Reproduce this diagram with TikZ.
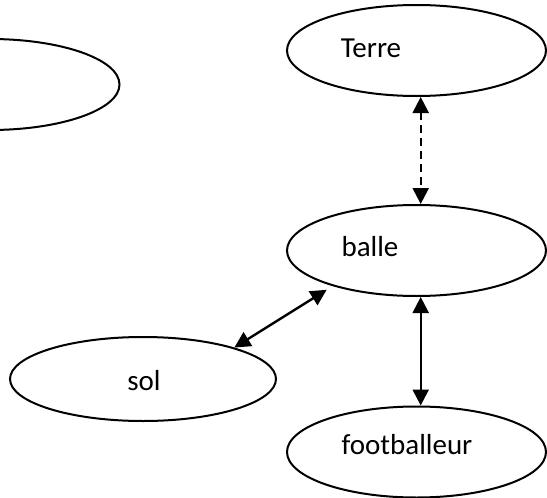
\documentclass[tikz,border=0pt]{standalone}
\usepackage{fontspec}
\setmainfont{Carlito}
\usetikzlibrary{shapes.geometric,arrows.meta}
\begin{document}
\begin{tikzpicture}[x=1pt,y=-1pt,
  oval/.style={draw=black,line width=2pt,ellipse,minimum width=259pt,minimum height=91pt,inner sep=0pt},
  lbl/.style={font=\fontsize{29}{34}\selectfont,inner sep=0pt,anchor=center},
  link/.style={line width=2.4pt,{Triangle[length=16pt,width=16pt]}-{Triangle[length=16pt,width=16pt]}}]
\useasboundingbox (0,0) rectangle (547,498);
\clip (0,0) rectangle (547,498);
\node[oval] (blank) at (-10,84.5) {};
\node[oval] (terre) at (416.5,50.5) {};
\node[oval] (balle) at (416.5,250.5) {};
\node[oval] (foot) at (416.5,452) {};
\node[oval,minimum width=266pt,minimum height=84pt] (sol) at (143,379) {};
\node[lbl] (tterre) at (371,48) {Terre};
\node[lbl] (tballe) at (370,247) {balle};
\node[lbl] (tfoot) at (407,445) {footballeur};
\node[lbl] (tsol) at (144,381) {sol};
\draw[link,dash pattern=on 8pt off 5pt] ([xshift=4.2pt]terre.south) -- ([xshift=4.2pt]balle.north);
\draw[link] ([xshift=4.2pt]balle.south) -- ([xshift=4.2pt]foot.north);
\draw[link,shorten <=7pt] (balle.203) -- (sol.19);
\end{tikzpicture}
\end{document}
